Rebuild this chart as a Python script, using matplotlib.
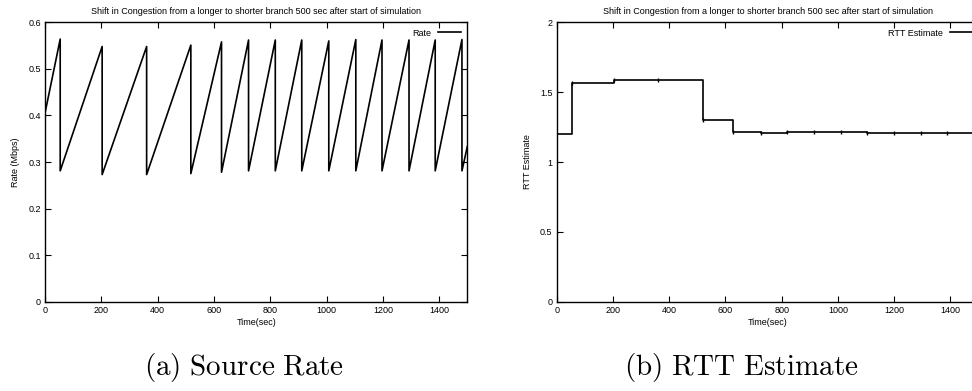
import matplotlib
matplotlib.use('Agg')
import matplotlib.pyplot as plt

plt.rcParams['font.family'] = ['Liberation Sans', 'DejaVu Sans']
plt.rcParams['mathtext.fontset'] = 'cm'

title = 'Shift in Congestion from a longer to shorter branch 500 sec after start of simulation'

# source rate: sawtooth (time of each drop, peak before drop, value after drop)
rate_start = (0, 0.405)
drop_t = [54, 203, 361, 518, 627, 723, 818, 912, 1008, 1104, 1197, 1293, 1386, 1481]
peak_v = [0.564, 0.548, 0.548, 0.551, 0.558, 0.562, 0.562, 0.562, 0.560, 0.563, 0.562, 0.562, 0.562, 0.563]
trough_v = [0.281, 0.273, 0.273, 0.275, 0.278, 0.281, 0.281, 0.281, 0.281, 0.281, 0.281, 0.281, 0.281, 0.281]
rate_end = (1500, 0.333)

# rtt estimate: step values
rtt_t = [0, 53, 205, 360, 520, 628, 726, 820, 915, 1010, 1105, 1199, 1294, 1388, 1500]
rtt_v = [1.200, 1.568, 1.585, 1.590, 1.303, 1.217, 1.207, 1.212, 1.215, 1.215, 1.210, 1.210, 1.205, 1.205, 1.205]

xs = [rate_start[0]]
ys = [rate_start[1]]
for t, p, q in zip(drop_t, peak_v, trough_v):
    xs += [t, t]
    ys += [p, q]
xs.append(rate_end[0])
ys.append(rate_end[1])

fig = plt.figure(figsize=(9.72, 3.91), dpi=100)
ax1 = fig.add_axes([45 / 972, 89.3 / 391, 422.3 / 972, 279.4 / 391])
ax2 = fig.add_axes([556.7 / 972, 89.3 / 391, 421.8 / 972, 279.4 / 391])


def style(ax):
    ax.tick_params(direction='in', top=True, right=True, length=4, width=0.8,
                   labelsize=6.5, pad=3)
    for s in ax.spines.values():
        s.set_linewidth(1.0)
    ax.set_title(title, fontsize=6.5, pad=6)
    ax.set_xlabel('Time(sec)', fontsize=6.5, labelpad=2)
    ax.set_xlim(0, 1500)
    ax.set_xticks(range(0, 1401, 200))


ax1.plot(xs, ys, color='black', lw=1.2, label='Rate')
style(ax1)
ax1.set_ylim(0, 0.6)
ax1.set_yticks([0, 0.1, 0.2, 0.3, 0.4, 0.5, 0.6])
ax1.set_yticklabels(['0', '0.1', '0.2', '0.3', '0.4', '0.5', '0.6'])
ax1.set_ylabel('Rate (Mbps)', fontsize=6.5, labelpad=6)
ax1.legend(loc='upper right', fontsize=6.5, frameon=False, handlelength=2.5,
           handletextpad=0.8, borderaxespad=0.3, markerfirst=False)

ax2.step(rtt_t, rtt_v, where='post', color='black', lw=1.2, label='RTT Estimate')
ax2.plot(rtt_t[1:-1], rtt_v[1:-1], ls='none', marker='|', ms=2.5, color='black')
style(ax2)
ax2.set_ylim(0, 2)
ax2.set_yticks([0, 0.5, 1, 1.5, 2])
ax2.set_yticklabels(['0', '0.5', '1', '1.5', '2'])
ax2.set_ylabel('RTT Estimate', fontsize=6.5, labelpad=6)
ax2.legend(loc='upper right', fontsize=6.5, frameon=False, handlelength=2.5,
           handletextpad=0.8, borderaxespad=0.3, markerfirst=False)

fig.text(244 / 972, 1 - 368 / 391, r'$\mathrm{(a)\ Source\ Rate}$', ha='center', va='center', fontsize=21)
fig.text(741 / 972, 1 - 368 / 391, r'$\mathrm{(b)\ RTT\ Estimate}$', ha='center', va='center', fontsize=21)

fig.savefig('out.png', dpi=100)
